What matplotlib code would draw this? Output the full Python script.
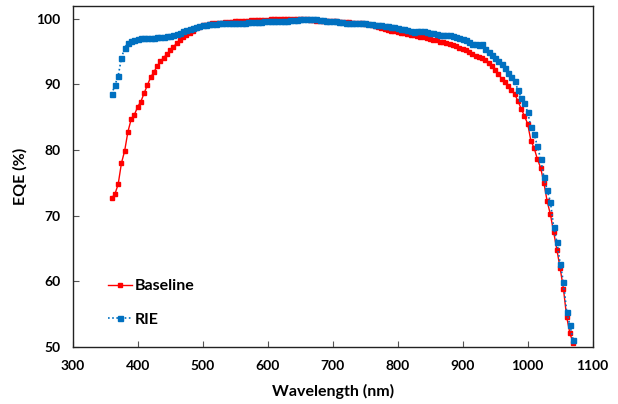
import numpy as np
import matplotlib
matplotlib.use("Agg")
from matplotlib import pyplot as plt

# wavelength grid (nm) and EQE readings (%)
wavelength = np.arange(360, 1075, 5)

baseline = [
    72.7, 73.3, 74.8, 78.0, 79.9, 82.8, 84.7, 85.4, 86.6, 87.4,
    88.7, 89.9, 91.1, 91.9, 92.8, 93.5, 94.1, 94.6, 95.2, 95.7,
    96.3, 96.8, 97.2, 97.6, 97.9, 98.2, 98.6, 98.8, 99.0, 99.1,
    99.2, 99.3, 99.3, 99.4, 99.4, 99.5, 99.5, 99.5, 99.6, 99.6,
    99.7, 99.7, 99.7, 99.8, 99.8, 99.8, 99.8, 99.8, 99.8, 99.9,
    99.9, 99.9, 99.9, 100.0, 100.0, 100.0, 99.9, 99.9, 99.9, 99.9,
    99.9, 99.8, 99.8, 99.7, 99.7, 99.7, 99.6, 99.6, 99.6, 99.6,
    99.5, 99.5, 99.5, 99.5, 99.4, 99.4, 99.3, 99.3, 99.2, 99.2,
    99.1, 98.9, 98.7, 98.6, 98.4, 98.3, 98.2, 98.1, 98.0, 97.9,
    97.8, 97.7, 97.6, 97.5, 97.4, 97.3, 97.2, 97.0, 96.9, 96.8,
    96.7, 96.5, 96.4, 96.3, 96.1, 96.0, 95.8, 95.6, 95.4, 95.2,
    94.9, 94.6, 94.4, 94.2, 94.0, 93.7, 93.3, 92.8, 92.2, 91.6,
    90.9, 90.3, 89.7, 89.2, 88.5, 87.5, 86.3, 85.2, 84.0, 81.4,
    80.3, 78.6, 77.3, 75.0, 72.2, 70.2, 67.5, 64.8, 62.0, 58.9,
    54.6, 52.1, 50.6,
]

rie = [
    88.5, 89.9, 91.3, 94.0, 95.6, 96.3, 96.6, 96.8, 96.9, 97.0,
    97.0, 97.0, 97.1, 97.1, 97.2, 97.2, 97.3, 97.4, 97.4, 97.5,
    97.7, 97.9, 98.1, 98.3, 98.5, 98.6, 98.8, 98.9, 99.0, 99.1,
    99.2, 99.2, 99.2, 99.3, 99.3, 99.3, 99.3, 99.3, 99.4, 99.4,
    99.4, 99.4, 99.5, 99.5, 99.5, 99.5, 99.5, 99.6, 99.6, 99.6,
    99.6, 99.7, 99.7, 99.7, 99.7, 99.8, 99.8, 99.8, 99.9, 99.9,
    100.0, 100.0, 99.9, 99.9, 99.8, 99.8, 99.7, 99.7, 99.6, 99.6,
    99.5, 99.5, 99.4, 99.4, 99.4, 99.3, 99.3, 99.3, 99.3, 99.2,
    99.2, 99.1, 99.1, 99.0, 98.9, 98.9, 98.8, 98.7, 98.6, 98.5,
    98.4, 98.3, 98.1, 98.0, 98.1, 98.2, 98.2, 98.0, 97.9, 97.8,
    97.7, 97.6, 97.6, 97.6, 97.6, 97.4, 97.2, 97.1, 96.9, 96.7,
    96.4, 96.2, 96.1, 96.0, 96.1, 95.4, 94.9, 94.5, 94.1, 93.6,
    93.1, 92.5, 91.8, 91.1, 90.5, 89.2, 88.0, 87.1, 85.8, 83.5,
    82.4, 80.6, 78.6, 75.9, 73.9, 72.1, 68.3, 66.0, 62.7, 59.9,
    55.4, 53.3, 51.1,
]

x_ticks = [300, 400, 500, 600, 700, 800, 900, 1000, 1100]
y_ticks = [50, 60, 70, 80, 90, 100]

plt.rcParams['font.family'] = ['Lato', 'DejaVu Sans']
plt.rcParams['font.weight'] = 'bold'

fig = plt.figure(figsize=(6.18, 4.04), dpi=100)
ax = fig.add_axes([0.1176, 0.141, 0.8414, 0.845])

ax.plot(wavelength, baseline, color='#FF0000', lw=1.0, marker='s',
        markersize=3.2, label='Baseline', zorder=2)
ax.plot(wavelength, rie, color='#0070C0', lw=1.2, ls=(0, (1, 1.5)),
        marker='s', markersize=3.6, label='RIE', zorder=3)

ax.set_xlim(300, 1100)
ax.set_ylim(50, 102)
ax.set_xticks(x_ticks)
ax.set_yticks(y_ticks)
ax.tick_params(direction='in', length=4, width=0.8, labelsize=10, pad=9,
               color='#555555')
for lab in ax.get_xticklabels() + ax.get_yticklabels():
    lab.set_fontweight('bold')
for s in ax.spines.values():
    s.set_linewidth(1.0)
    s.set_color('#222222')

ax.set_xlabel('Wavelength (nm)', fontsize=11.5, fontweight='bold', labelpad=9)
ax.set_ylabel('EQE (%)', fontsize=11.5, fontweight='bold', labelpad=6)

leg = ax.legend(loc='lower left', bbox_to_anchor=(0.068, 0.06), frameon=False,
                fontsize=11.5, handlelength=1.5, handletextpad=0.15,
                labelspacing=1.2, borderpad=0, borderaxespad=0)
for t in leg.get_texts():
    t.set_fontweight('bold')

fig.savefig('out.png', dpi=100)
